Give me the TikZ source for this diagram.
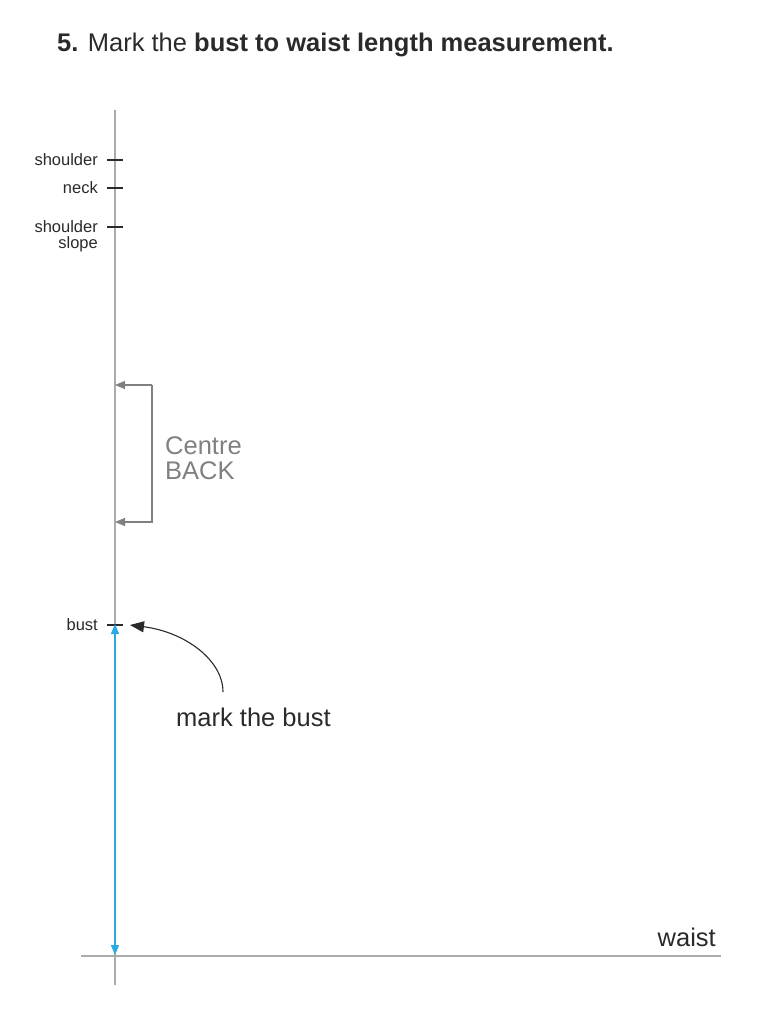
\documentclass[tikz,border=0pt]{standalone}
\usepackage{fontspec}
\setmainfont{Liberation Sans}
\usetikzlibrary{arrows.meta}

\definecolor{linegray}{HTML}{ABABAB}
\definecolor{bracketgray}{HTML}{808080}
\definecolor{tickblack}{HTML}{2A2A2A}
\definecolor{measureblue}{HTML}{29ABE2}

\begin{document}
\begin{tikzpicture}
    [
        x=1pt, y=-1pt,
        ticklabel/.style={anchor=east, inner sep=0pt, font=\fontsize{16.5}{18}\selectfont, text=tickblack, align=right},
        bigtext/.style={inner sep=0pt, font=\fontsize{25.5}{25}\selectfont},
    ]
    
    \useasboundingbox (0, 0) rectangle (768, 1024);
    
    % title
    \node [anchor=west, inner sep=0pt, font=\fontsize{25.5}{28}\selectfont, text=tickblack] (title) at (57, 45)
        {\textbf{5.} Mark the \textbf{bust to waist length measurement.}};
    
    % centre back line and waist line
    \coordinate (top) at (115, 110);
    \coordinate (bottom) at (115, 985);
    \draw [linegray, line width=1.6pt] (top) -- (bottom);
    \coordinate (waistL) at (81, 956);
    \coordinate (waistR) at (721, 956);
    \draw [linegray, line width=1.8pt] (waistL) -- (waistR);
    \node [bigtext, anchor=base east, text=tickblack] (waist) at (716, 946) {waist};
    
    % tick marks
    \foreach \y/\name/\lab in {160/shoulder/shoulder, 188/neck/neck, 227/slope/shoulder, 625/bust/bust} {
        \draw [tickblack, line width=1.1pt] (107, \y) -- (123, \y);
        \coordinate (\name) at (115, \y);
        \node [ticklabel] (\name-lab) at (98, \y) {\lab};
    }
    \node [ticklabel] (slope-lab2) at (98, 244) {slope};
    
    % centre back bracket
    \coordinate (cbTop) at (115, 385);
    \coordinate (cbBot) at (115, 522);
    \draw [bracketgray, line width=1.1pt, -{Triangle[length=10pt, width=8pt]}]
        (152, 385) -- (cbTop);
    \draw [bracketgray, line width=1.1pt, -{Triangle[length=10pt, width=8pt]}]
        (152, 385) -- (152, 522) -- (cbBot);
    \node [bigtext, anchor=west, text=bracketgray, align=left] (cb) at (165, 458) {Centre\\BACK};
    
    % bust to waist
    \coordinate (waistPt) at (115, 955);
    \draw [measureblue, line width=1.4pt, {Triangle[length=10pt, width=8pt]}-{Triangle[length=10pt, width=8pt]}]
        ([yshift=1pt]bust) -- (waistPt);
    
    \node [bigtext, anchor=west, text=tickblack] (markbust) at (176, 717) {mark the bust};
    \coordinate (curveStart) at (223, 692);
    \draw [tickblack, line width=1.1pt, -{Triangle[length=14pt, width=11pt]}]
        (curveStart) .. controls (223, 660) and (185, 632) .. (130, 625);
    
    \end{tikzpicture}
\end{document}
